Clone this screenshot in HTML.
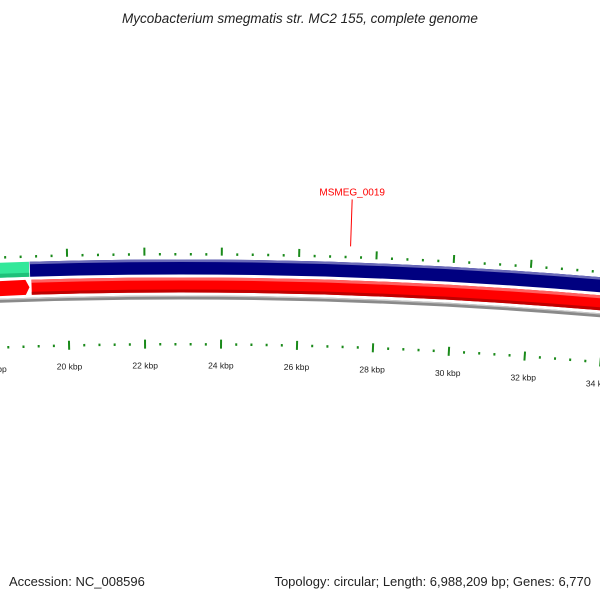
<!DOCTYPE html>
<html><head><meta charset="utf-8"><style>
body{margin:0;background:#fff;width:600px;height:600px;overflow:hidden}
svg{display:block;font-family:"Liberation Sans","DejaVu Sans",sans-serif}
</style></head><body>
<svg id="map" width="600" height="600" viewBox="0 0 600 600">
<defs>
<linearGradient id="gBlue" x1="0" y1="0" x2="0" y2="1"><stop offset="0" stop-color="#5a5ab0"/><stop offset="0.25" stop-color="#000080"/><stop offset="0.85" stop-color="#000070"/><stop offset="1" stop-color="#303090"/></linearGradient>
</defs>
<text x="300" y="23" text-anchor="middle" font-size="13.5" font-style="italic" fill="#222">Mycobacterium smegmatis str. MC2 155, complete genome</text>
<g id="bands"></g>
<g id="ticks"></g>
<g id="labels"></g>
<text x="9" y="586" font-size="13" fill="#222">Accession: NC_008596</text>
<text x="591" y="586" text-anchor="end" font-size="13" fill="#222">Topology: circular; Length: 6,988,209 bp; Genes: 6,770</text>
</svg>
<script>
const majorTicks = [16, 18, 20, 22, 24, 26, 28, 30, 32, 34, 36];
const tickLabels = ["16 kbp","18 kbp","20 kbp","22 kbp","24 kbp","26 kbp","28 kbp","30 kbp","32 kbp","34 kbp","36 kbp"];
const minorStep = 0.4;
const geneNames = ["MSMEG_0019"];
const genePos = [27.32];
const greenEnd = [19.01];

const NS = "http://www.w3.org/2000/svg";
const R = 5000, cx = 180, cy = 259.5 + R, kc = 22.92, pxPerKbp = 38.65;
function ang(k){ return (k - kc) * pxPerKbp / R; }
function pt(k, r){ const t = ang(k); return [cx + r*Math.sin(t), cy - r*Math.cos(t)]; }
function mk(tag, attrs, parent){ const e = document.createElementNS(NS, tag); for (const a in attrs) e.setAttribute(a, attrs[a]); parent.appendChild(e); return e; }
function arc(k1, k2, r){ const a = pt(k1, r), b = pt(k2, r); return `M${a[0]},${a[1]} A${r},${r} 0 0 1 ${b[0]},${b[1]}`; }
function band(k1, k2, r1, r2){ const a = pt(k1, r1), b = pt(k2, r1), c = pt(k2, r2), d = pt(k1, r2);
  return `M${a[0]},${a[1]} A${r1},${r1} 0 0 1 ${b[0]},${b[1]} L${c[0]},${c[1]} A${r2},${r2} 0 0 0 ${d[0]},${d[1]} Z`; }

const bands = document.getElementById('bands');
const kMin = 14, kMax = 38;
// forward strand (blue)
let e = mk('path', {d: band(greenEnd[0] + 0.02, kMax, R, R - 15), fill: '#000080'}, bands);


e = mk('path', {d: band(greenEnd[0] + 0.02, kMax, R, R - 2.5), fill: '#6a6ab8'}, bands);


e = mk('path', {d: band(kMin, greenEnd[0], R, R - 15), fill: '#33e89a'}, bands);


e = mk('path', {d: band(kMin, greenEnd[0], R - 11, R - 15), fill: '#1fc07a'}, bands);


// reverse strand (red)
e = mk('path', {d: band(greenEnd[0] + 0.05, kMax, R - 18, R - 33), fill: '#ff0000'}, bands);


e = mk('path', {d: band(greenEnd[0] + 0.05, kMax, R - 18, R - 21), fill: '#ff6060'}, bands);


e = mk('path', {d: band(greenEnd[0] + 0.05, kMax, R - 30, R - 33), fill: '#c00000'}, bands);


// red arrow ending at greenEnd
{ const tipK = greenEnd[0] - 0.005, baseK = tipK - 0.1;
  const a = pt(kMin, R - 18), b = pt(baseK, R - 18), t = pt(tipK, R - 25.5), c = pt(baseK, R - 33), d = pt(kMin, R - 33);
  e = mk('path', {d: `M${a[0]},${a[1]} L${b[0]},${b[1]} L${t[0]},${t[1]} L${c[0]},${c[1]} L${d[0]},${d[1]} Z`, fill: '#ff0000'}, bands);
  
   }
// backbone gray
e = mk('path', {d: band(kMin, kMax, R - 36, R - 40), fill: '#8a8a8a'}, bands);


e = mk('path', {d: band(kMin, kMax, R - 36, R - 37.2), fill: '#c8c8c8'}, bands);



// ticks
const ticks = document.getElementById('ticks');
for (let i = 0; i * minorStep + 14 <= 38; i++) {
  const k = 14 + i * minorStep;
  const isMajor = majorTicks.some(m => Math.abs(m - k) < 1e-6);
  const oo = isMajor ? [R + 4, R + 12] : [R + 4, R + 6.5];
  const ii = isMajor ? [R - 80, R - 89] : [R - 83.5, R - 86];
  for (const seg of [oo, ii]) {
    const a = pt(k, seg[0]), b = pt(k, seg[1]);
    const l = mk('line', {x1: a[0], y1: a[1], x2: b[0], y2: b[1], stroke: '#1a8a1a', 'stroke-width': isMajor ? 2 : 2}, ticks);
    
    
  }
}
const labels = document.getElementById('labels');
majorTicks.forEach((k, i) => {
  const p = pt(k, R - 106);
  const t = mk('text', {x: p[0], y: p[1] + 3, 'text-anchor': 'middle', 'font-size': 8.5, fill: '#222'}, labels);
  t.textContent = tickLabels[i];
  
  
});
geneNames.forEach((n, i) => {
  const a = pt(genePos[i], R + 16), b = pt(genePos[i], R + 63);
  const l = mk('line', {x1: a[0], y1: a[1], x2: b[0], y2: b[1], stroke: '#ff0000', 'stroke-width': 1}, labels);
  
  
  const t = mk('text', {x: b[0], y: b[1] - 4, 'text-anchor': 'middle', 'font-size': 10, fill: '#ff0000'}, labels);
  t.textContent = n;
  
  
});
</script>
</body></html>
